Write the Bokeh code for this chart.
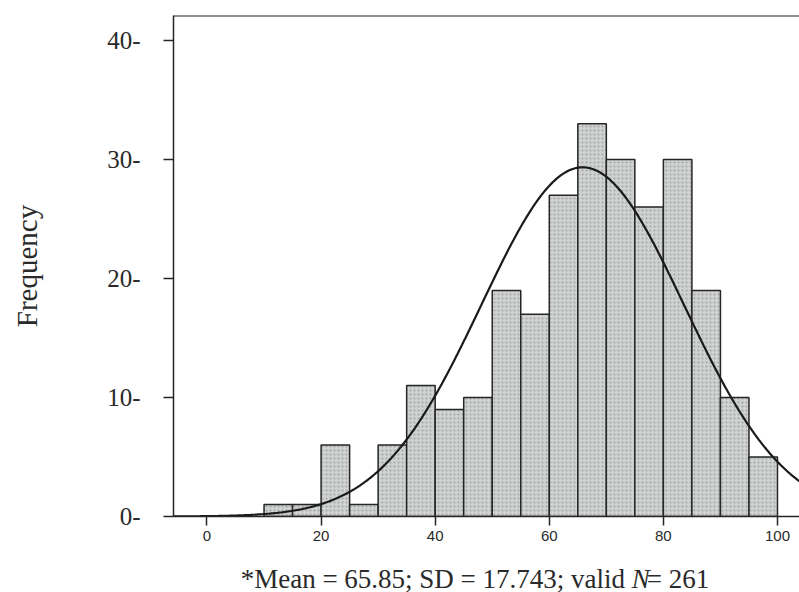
import math
import numpy as np
from bokeh.plotting import figure
from bokeh.layouts import column
from bokeh.models import Label, Span, FixedTicker, Range1d
from bokeh.embed import file_html
from bokeh.resources import INLINE

# ---- data ----
bin_left = [10, 15, 20, 25, 30, 35, 40, 45, 50, 55, 60, 65, 70, 75, 80, 85, 90, 95]
frequency = [1, 1, 6, 1, 6, 11, 9, 10, 19, 17, 27, 33, 30, 26, 30, 19, 10, 5]
bin_width = 5
x_ticks = [0, 20, 40, 60, 80, 100]
y_ticks = [0, 10, 20, 30, 40]
y_tick_labels = ["0-", "10-", "20-", "30-", "40-"]
MEAN = 65.85
SD = 17.743
N_VALID = 261

X_START, X_END = -5.87, 103.86
Y_START, Y_END = 0, 42.1

INK = "#262626"
TEXT = "#2a2a2a"
SERIF = "Liberation Serif"

p = figure(width=799, height=552,
           x_range=Range1d(X_START, X_END), y_range=Range1d(Y_START, Y_END),
           output_backend="svg", toolbar_location=None,
           min_border_left=173, min_border_right=0,
           min_border_top=15, min_border_bottom=36)
p.grid.visible = False
p.outline_line_color = None
p.background_fill_color = "white"
p.border_fill_color = "white"

bin_right = [b + bin_width for b in bin_left]
p.quad(left=bin_left, right=bin_right, bottom=0, top=frequency,
       fill_color="#d0d2d1", line_color=INK, line_width=1.5,
       hatch_pattern="dot", hatch_color="#7f8787", hatch_scale=4,
       hatch_weight=1, hatch_alpha=0.6)

# fitted normal curve from the stated mean, SD and N
xs = np.linspace(X_START, X_END, 400)
ys = N_VALID * bin_width / (SD * math.sqrt(2 * math.pi)) * np.exp(-0.5 * ((xs - MEAN) / SD) ** 2)
p.line(xs, ys, line_color="#1a1a1a", line_width=2.2)

# top border
p.add_layout(Span(location=Y_END, dimension="width", line_color=INK, line_width=2))

# y axis
ya = p.yaxis[0]
ya.ticker = FixedTicker(ticks=y_ticks)
ya.major_label_overrides = {t: l for t, l in zip(y_ticks, y_tick_labels)}
ya.major_tick_out = 10
ya.major_tick_in = 0
ya.minor_tick_line_color = None
ya.axis_line_color = INK
ya.axis_line_width = 1.5
ya.major_tick_line_color = INK
ya.major_tick_line_width = 1.5
ya.major_label_text_font = SERIF
ya.major_label_text_font_size = "25px"
ya.major_label_text_color = TEXT
ya.major_label_standoff = 23
ya.axis_label = "Frequency"
ya.axis_label_text_font = SERIF
ya.axis_label_text_font_size = "29px"
ya.axis_label_text_font_style = "normal"
ya.axis_label_text_color = TEXT
ya.axis_label_standoff = 61

# x axis
xa = p.xaxis[0]
xa.ticker = FixedTicker(ticks=x_ticks)
xa.major_tick_out = 9
xa.major_tick_in = 0
xa.minor_tick_line_color = None
xa.axis_line_color = INK
xa.axis_line_width = 1.5
xa.major_tick_line_color = INK
xa.major_tick_line_width = 1.5
xa.major_label_text_font = "Liberation Sans"
xa.major_label_text_font_size = "15px"
xa.major_label_text_color = TEXT
xa.major_label_standoff = 5

# x axis title (with italic N) in a strip below the chart
t = figure(width=799, height=40, x_range=Range1d(0, 799), y_range=Range1d(0, 40),
           output_backend="svg", toolbar_location=None,
           x_axis_location=None, y_axis_location=None,
           min_border_left=0, min_border_right=0, min_border_top=0, min_border_bottom=0)
t.grid.visible = False
t.outline_line_color = None
t.border_fill_color = "white"

split_x = 585
base_y = 14
common = dict(y=base_y, text_baseline="alphabetic", text_font=SERIF,
              text_font_size="27px", text_color=TEXT)
t.add_layout(Label(x=split_x, text="*Mean = 65.85; SD = 17.743; valid ",
                   text_align="right", **common))
t.add_layout(Label(x=split_x, text="N", text_font_style="italic",
                   text_align="left", **common))
t.add_layout(Label(x=split_x + 19, text="= 261", text_align="left", **common))

layout = column(p, t, spacing=0)
open("out.html", "w").write(file_html(layout, INLINE))
